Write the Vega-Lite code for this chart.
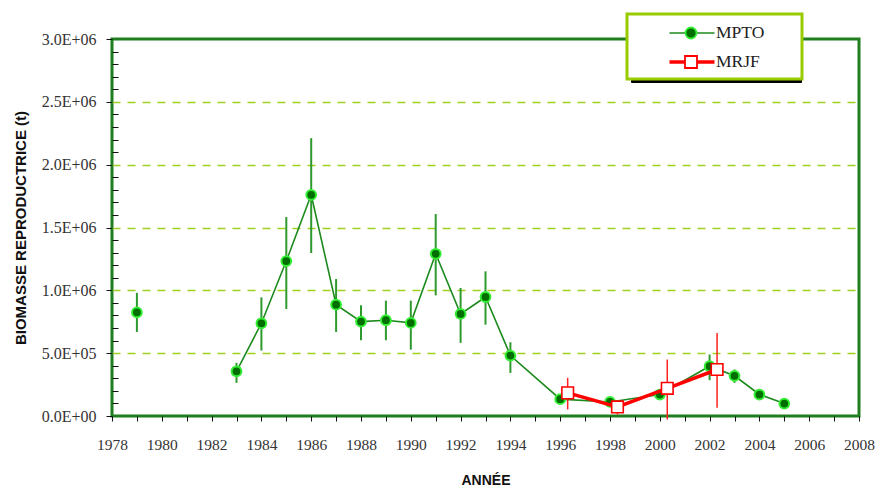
{
  "$schema": "https://vega.github.io/schema/vega-lite/v6.json",
  "width": 747,
  "height": 377,
  "autosize": "none",
  "padding": {"left": 112, "top": 39, "right": 17, "bottom": 71},
  "background": "white",
  "config": {
    "view": {"stroke": "#1f7f1f", "strokeWidth": 3},
    "font": "Liberation Sans"
  },
  "datasets": {
    "mpto": [
      {"year": 1979, "b": 825000, "lo": 669000, "hi": 980000},
      {"year": 1983, "b": 356000, "lo": 264000, "hi": 423000},
      {"year": 1984, "b": 738000, "lo": 521000, "hi": 944000},
      {"year": 1985, "b": 1233000, "lo": 852000, "hi": 1583000},
      {"year": 1986, "b": 1760000, "lo": 1297000, "hi": 2211000},
      {"year": 1987, "b": 886000, "lo": 669000, "hi": 1090000},
      {"year": 1988, "b": 751000, "lo": 603000, "hi": 881000},
      {"year": 1989, "b": 762000, "lo": 603000, "hi": 918000},
      {"year": 1990, "b": 741000, "lo": 528000, "hi": 918000},
      {"year": 1991, "b": 1291000, "lo": 960000, "hi": 1607000},
      {"year": 1992, "b": 812000, "lo": 582000, "hi": 1019000},
      {"year": 1993, "b": 947000, "lo": 727000, "hi": 1151000},
      {"year": 1994, "b": 481000, "lo": 343000, "hi": 587000},
      {"year": 1996, "b": 134000, "lo": null, "hi": null},
      {"year": 1998, "b": 112000, "lo": null, "hi": null},
      {"year": 2000, "b": 171000, "lo": null, "hi": null},
      {"year": 2002, "b": 396000, "lo": 285000, "hi": 489000},
      {"year": 2003, "b": 320000, "lo": 264000, "hi": 370000},
      {"year": 2004, "b": 171000, "lo": null, "hi": null},
      {"year": 2005, "b": 99000, "lo": null, "hi": null}
    ],
    "mrjf": [
      {"year": 1996.3, "b": 184000, "lo": 52000, "hi": 304000},
      {"year": 1998.3, "b": 72000, "lo": 12000, "hi": 120000},
      {"year": 2000.3, "b": 220000, "lo": -28000, "hi": 449000},
      {"year": 2002.3, "b": 370000, "lo": 65000, "hi": 661000}
    ]
  },
  "layer": [
    {
      "data": {"name": "mpto"},
      "mark": {"type": "rule", "color": "#2e9a2e", "strokeWidth": 2},
      "encoding": {
        "x": {
          "field": "year", "type": "quantitative",
          "scale": {"domain": [1978, 2008], "nice": false, "zero": false},
          "axis": {
            "title": "ANNÉE",
            "values": [1978,1979,1980,1981,1982,1983,1984,1985,1986,1987,1988,1989,1990,1991,1992,1993,1994,1995,1996,1997,1998,1999,2000,2001,2002,2003,2004,2005,2006,2007,2008],
            "tickCount": 200,
            "format": "d",
            "labelExpr": "datum.value % 2 === 0 ? datum.label : ''",
            "grid": false,
            "domain": false,
            "ticks": true,
            "tickSize": 5,
            "tickColor": "#111",
            "labelFont": "Liberation Sans Narrow",
            "labelFontSize": 15.5,
            "labelColor": "#333",
            "labelPadding": 16,
            "labelFlush": false,
            "labelOverlap": false,
            "titleFont": "Liberation Sans",
            "titleFontSize": 14,
            "titleFontWeight": "bold",
            "titleColor": "#111",
            "titleX": 373.5,
            "titleY": 64,
            "titleBaseline": "middle"
          }
        },
        "y": {
          "field": "lo", "type": "quantitative",
          "scale": {"domain": [0, 3000000], "nice": false, "zero": false},
          "axis": {
            "title": "BIOMASSE REPRODUCTRICE  (t)",
            "values": [0,100000,200000,300000,400000,500000,600000,700000,800000,900000,1000000,1100000,1200000,1300000,1400000,1500000,1600000,1700000,1800000,1900000,2000000,2100000,2200000,2300000,2400000,2500000,2600000,2700000,2800000,2900000,3000000],
            "tickCount": 200,
            "labelExpr": "datum.value % 500000 === 0 ? (datum.value === 0 ? '0.0E+00' : (datum.value < 1000000 ? format(datum.value / 100000, '.1f') + 'E+05' : format(datum.value / 1000000, '.1f') + 'E+06')) : ''",
            "grid": true,
            "gridColor": "#9ed11f",
            "gridDash": [8, 7],
            "gridWidth": 1.3,
            "gridOpacity": {"condition": {"test": "datum.value % 500000 === 0 && datum.value > 0 && datum.value < 3000000", "value": 1}, "value": 0},
            "domain": false,
            "tickColor": "#111",
            "tickSize": {"condition": {"test": "datum.value % 500000 === 0", "value": 6}, "value": -6},
            "labelFont": "Liberation Sans Narrow",
            "labelFontSize": 16,
            "labelColor": "#333",
            "labelPadding": 10,
            "labelFlush": false,
            "labelOverlap": false,
            "titleFont": "Liberation Sans",
            "titleFontSize": 15,
            "titleFontWeight": "bold",
            "titleColor": "#111",
            "titleAngle": -90,
            "titleX": -92,
            "titleY": 188.5,
            "titleBaseline": "middle",
            "titleAlign": "center"
          }
        },
        "y2": {"field": "hi"}
      }
    },
    {
      "data": {"name": "mpto"},
      "transform": [{"filter": "datum.year >= 1983"}],
      "mark": {"type": "line", "color": "#1d8a1d", "strokeWidth": 1.6},
      "encoding": {
        "x": {"field": "year", "type": "quantitative"},
        "y": {"field": "b", "type": "quantitative"}
      }
    },
    {
      "data": {"name": "mpto"},
      "mark": {"type": "point", "shape": "circle", "filled": true, "fill": "#006f00", "stroke": "#33ee33", "strokeWidth": 2, "size": 95, "opacity": 1},
      "encoding": {
        "x": {"field": "year", "type": "quantitative"},
        "y": {"field": "b", "type": "quantitative"}
      }
    },
    {
      "data": {"name": "mrjf"},
      "mark": {"type": "rule", "color": "#ff2020", "strokeWidth": 1.5},
      "encoding": {
        "x": {"field": "year", "type": "quantitative"},
        "y": {"field": "lo", "type": "quantitative"},
        "y2": {"field": "hi"}
      }
    },
    {
      "data": {"name": "mrjf"},
      "mark": {"type": "line", "color": "#ff0000", "strokeWidth": 3.5},
      "encoding": {
        "x": {"field": "year", "type": "quantitative"},
        "y": {"field": "b", "type": "quantitative"}
      }
    },
    {
      "data": {"name": "mrjf"},
      "mark": {"type": "point", "shape": "square", "filled": true, "fill": "white", "stroke": "#ff0000", "strokeWidth": 1.6, "size": 135, "opacity": 1},
      "encoding": {
        "x": {"field": "year", "type": "quantitative"},
        "y": {"field": "b", "type": "quantitative"}
      }
    },
    {
      "data": {"values": []},
      "mark": {"type": "point", "filled": true},
      "encoding": {
        "size": {
          "field": "s0", "type": "nominal",
          "scale": {"domain": ["a1", "a2"], "range": [400, 400]},
          "legend": {
            "orient": "none", "legendX": 519, "legendY": -21, "title": null, "zindex": 0,
            "padding": 8, "symbolSize": 400, "symbolOffset": 45, "labelOffset": 12, "rowPadding": 8,
            "symbolType": "M -2.25 0 L 2.25 0 M 9.5 0",
            "symbolFillColor": "black", "symbolStrokeColor": "black",
            "labelFont": "Liberation Sans Narrow", "labelFontSize": 17.5, "labelColor": "black",
            "labelExpr": "' '",
            "fillColor": "black", "strokeColor": "black"
          }
        }
      }
    },
    {
      "data": {"values": []},
      "mark": {"type": "line"},
      "encoding": {
        "color": {
          "field": "s1", "type": "nominal",
          "scale": {"domain": ["MPTO", "MRJF"], "range": ["#1d8a1d", "#ff0000"]},
          "legend": {
            "orient": "none", "legendX": 515, "legendY": -25, "title": null, "zindex": 5,
            "padding": 8, "symbolSize": 400, "symbolOffset": 45, "labelOffset": 12, "rowPadding": 8,
            "symbolType": "M -2.25 0 L 2.25 0 M 9.5 0",
            "labelFont": "Liberation Sans Narrow", "labelFontSize": 17.5, "labelColor": "#222",
            "fillColor": "white", "strokeColor": "#99cc00",
            "encode": {"legend": {"update": {"strokeWidth": {"value": 3}}}}
          }
        },
        "strokeWidth": {
          "field": "s1", "type": "nominal",
          "scale": {"domain": ["MPTO", "MRJF"], "range": [1.5, 3.5]}
        }
      }
    },
    {
      "data": {"values": []},
      "mark": {"type": "point", "filled": true, "opacity": 1, "strokeWidth": 1.8},
      "encoding": {
        "shape": {
          "field": "s2", "type": "nominal",
          "scale": {"domain": ["b1", "b2"], "range": ["M -0.55 0 A 0.55 0.55 0 1 0 0.55 0 A 0.55 0.55 0 1 0 -0.55 0 Z M 9.5 0", "M -0.6 -0.6 L 0.6 -0.6 L 0.6 0.6 L -0.6 0.6 Z M 9.5 0"]},
          "legend": {
            "orient": "none", "legendX": 515, "legendY": -25, "title": null, "zindex": 6,
            "padding": 8, "symbolSize": 400, "symbolOffset": 45, "labelOffset": 12, "rowPadding": 8,
            "labelFont": "Liberation Sans Narrow", "labelFontSize": 17.5, "labelColor": "transparent",
            "labelExpr": "' '",
            "symbolStrokeWidth": 1.8,
            "symbolOpacity": 1
          }
        },
        "fill": {
          "field": "s2", "type": "nominal",
          "scale": {"domain": ["b1", "b2"], "range": ["#006f00", "#ffffff"]}
        },
        "stroke": {
          "field": "s2", "type": "nominal",
          "scale": {"domain": ["b1", "b2"], "range": ["#33ee33", "#ff0000"]}
        }
      }
    }
  ]
}
